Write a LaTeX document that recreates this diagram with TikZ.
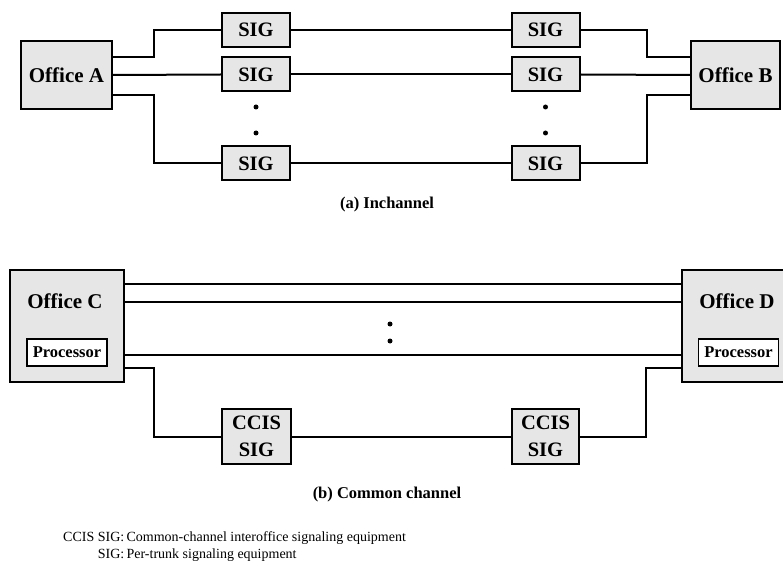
\documentclass[tikz,border=0pt]{standalone}
\usepackage{fontspec}
\setmainfont{Liberation Serif}
\usepackage{xcolor}
\definecolor{boxgray}{HTML}{E6E6E6}
\usetikzlibrary{positioning}

\begin{document}
\begin{tikzpicture}[
  x=1pt, y=-1pt,
  office/.style={draw, line width=2pt, fill=boxgray, inner sep=0pt,
                 font=\fontsize{21}{23}\selectfont\bfseries},
  sigbox/.style={draw, line width=2pt, fill=boxgray, minimum width=68pt,
                 minimum height=34pt, inner sep=0pt, align=center,
                 font=\fontsize{20.5}{27}\selectfont\bfseries},
  proc/.style={draw, line width=1.1pt, fill=white, minimum width=80pt,
               minimum height=27pt, inner sep=0pt,
               font=\fontsize{16.5}{18}\selectfont\bfseries},
  dot/.style={circle, fill, inner sep=0pt, minimum size=5pt},
  wire/.style={line width=2pt},
  captext/.style={font=\fontsize{16.5}{18}\selectfont\bfseries}
]
  \useasboundingbox (0,0) rectangle (783,561);

  % (a) inchannel
  \node[office, minimum width=91pt, minimum height=68pt] (A) at (66.5,75) {Office A};
  \node[office, minimum width=89pt, minimum height=68pt] (B) at (735.5,75) {Office B};

  \node[sigbox] (SA1) at (256,30)    {SIG};
  \node[sigbox] (SA2) at (256,74.5)  {SIG};
  \node[sigbox] (SA3) at (256,163.5) {SIG};
  \node[sigbox] (SB1) at (545.5,30)    {SIG};
  \node[sigbox] (SB2) at (545.5,74.5)  {SIG};
  \node[sigbox] (SB3) at (545.5,163.5) {SIG};

  \node[dot] (dA1) at (256,107) {};
  \node[dot] (dA2) at (256,133) {};
  \node[dot] (dB1) at (545.5,107) {};
  \node[dot] (dB2) at (545.5,133) {};

  \draw[wire] ([yshift=18pt]A.east) -| ([xshift=-67pt]SA1.west) -- (SA1.west);
  \draw[wire] (A.east) -- (SA2.west);
  \draw[wire] ([yshift=-20pt]A.east) -| ([xshift=-67pt]SA3.west) -- (SA3.west);
  \draw[wire] (SA1) -- (SB1);
  \draw[wire] (SA2) -- (SB2);
  \draw[wire] (SA3) -- (SB3);
  \draw[wire] (SB1.east) -- ++(66,0) |- ([yshift=18pt]B.west);
  \draw[wire] (SB2.east) -- (B.west);
  \draw[wire] (SB3.east) -- ++(66,0) |- ([yshift=-20pt]B.west);

  \node[captext] (capA) at (387,205) {(a) Inchannel};

  % (b) common channel
  \node[office, minimum width=114pt, minimum height=112pt] (C) at (67,326) {};
  \node[office, minimum width=114pt, minimum height=112pt] (D) at (739,326) {};
  \node[font=\fontsize{21}{23}\selectfont\bfseries] (labC) at (65,301) {Office C};
  \node[font=\fontsize{21}{23}\selectfont\bfseries] (labD) at (737,301) {Office D};
  \node[proc] (PC) at (67,352.5) {Processor};
  \node[proc] (PD) at (738.5,352.5) {Processor};

  \node[sigbox, minimum width=69pt, minimum height=55pt] (CA) at (256.5,436.5) {CCIS\\SIG};
  \node[sigbox, minimum width=67pt, minimum height=55pt] (CB) at (545.5,436.5) {CCIS\\SIG};

  \node[dot] (dC1) at (390,324) {};
  \node[dot] (dC2) at (390,341) {};

  \draw[wire] ([yshift=42pt]C.east) -- ([yshift=42pt]D.west);
  \draw[wire] ([yshift=24pt]C.east) -- ([yshift=24pt]D.west);
  \draw[wire] ([yshift=-29pt]C.east) -- ([yshift=-29pt]D.west);
  \draw[wire] ([yshift=-42pt]C.east) -| ([xshift=-67pt]CA.west) -- (CA.west);
  \draw[wire] (CA) -- (CB);
  \draw[wire] (CB.east) -- ++(66,0) |- ([yshift=-42pt]D.west);

  \node[captext] (capB) at (387,495) {(b) Common channel};

  % legend
  \node[anchor=north west, inner sep=0pt, font=\fontsize{14}{16.5}\selectfont] (key) at (63,530)
    {\begin{tabular}{@{}r@{\,}l@{}}
      CCIS SIG: & Common-channel interoffice signaling equipment\\
      SIG: & Per-trunk signaling equipment
    \end{tabular}};
\end{tikzpicture}
\end{document}
